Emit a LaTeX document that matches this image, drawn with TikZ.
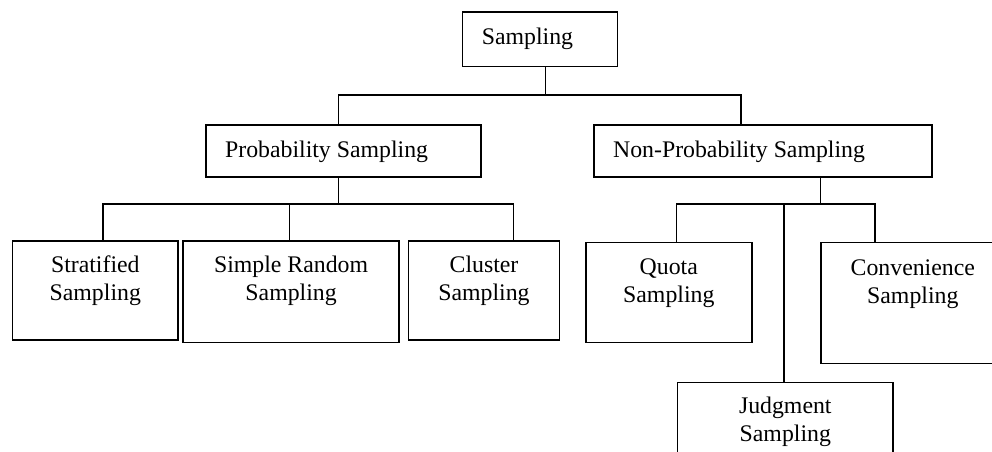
\documentclass[tikz,border=0pt]{standalone}
\usepackage{fontspec}
\setmainfont{Liberation Serif}
\newcommand\cellc[4]{\parbox[t][#1][t]{#2}{\centering\rule{0pt}{#3}#4\par}}
\newcommand\celll[5]{\parbox[t][#1][t]{#2}{\raggedright\hspace*{#4}\rule{0pt}{#3}#5\par}}
\begin{document}
\begin{tikzpicture}[x=1pt,y=-1pt,
  box/.style={draw=black,line width=1.6pt,inner sep=0pt,anchor=north west,
    font=\fontsize{23.8}{27.8}\selectfont},
  link/.style={draw=black,line width=1.5pt}]
\clip (0,0) rectangle (992,451);
\fill[white] (0,0) rectangle (992,451);
% boxes
\node[box] (samp) at (461.5,11) {\celll{54.5pt}{155pt}{32.5pt}{19.5pt}{Sampling}};
\node[box] (prob) at (205,124) {\celll{52pt}{275pt}{32.5pt}{19.3pt}{Probability Sampling}};
\node[box] (np) at (593.3,124) {\celll{52pt}{337.7pt}{32.5pt}{19pt}{Non-Probability Sampling}};
\node[box] (strat) at (11.7,240) {\cellc{99.3pt}{165.6pt}{31.7pt}{Stratified\\Sampling}};
\node[box] (simple) at (182.3,240) {\cellc{101.7pt}{216pt}{31.7pt}{Simple Random\\Sampling}};
\node[box] (clus) at (407.7,240) {\cellc{99.3pt}{151pt}{31.7pt}{Cluster\\Sampling}};
\node[box] (quota) at (585,241.7) {\cellc{100pt}{166pt}{32.3pt}{Quota\\Sampling}};
\node[box] (conv) at (820,241.7) {\cellc{121pt}{184pt}{33.3pt}{Convenience\\Sampling}};
\node[box] (judg) at (676.7,381.7) {\cellc{100pt}{215.6pt}{31.3pt}{Judgment\\Sampling}};
% branch coordinates
\coordinate (b0) at (545.7,95);
\coordinate (p1) at (338.3,95);
\coordinate (p2) at (741,95);
\coordinate (b1) at (338.3,204);
\coordinate (s1) at (103,204);
\coordinate (s2) at (289.3,204);
\coordinate (s3) at (513.3,204);
\coordinate (b2) at (820.7,204);
\coordinate (q1) at (676.7,204);
\coordinate (q2) at (784,204);
\coordinate (q3) at (875,204);
% connectors
\draw[link] (samp.south -| b0) -- (b0);
\draw[link] (prob.north -| p1) -- (p1) -- (p2) -- (np.north -| p2);
\draw[link] (prob.south -| b1) -- (b1);
\draw[link] (strat.north -| s1) -- (s1) -- (s3) -- (clus.north -| s3);
\draw[link] (s2) -- (simple.north -| s2);
\draw[link] (np.south -| b2) -- (b2);
\draw[link] (quota.north -| q1) -- (q1) -- (q3) -- (conv.north -| q3);
\draw[link] (q2) -- (judg.north -| q2);
\end{tikzpicture}
\end{document}
